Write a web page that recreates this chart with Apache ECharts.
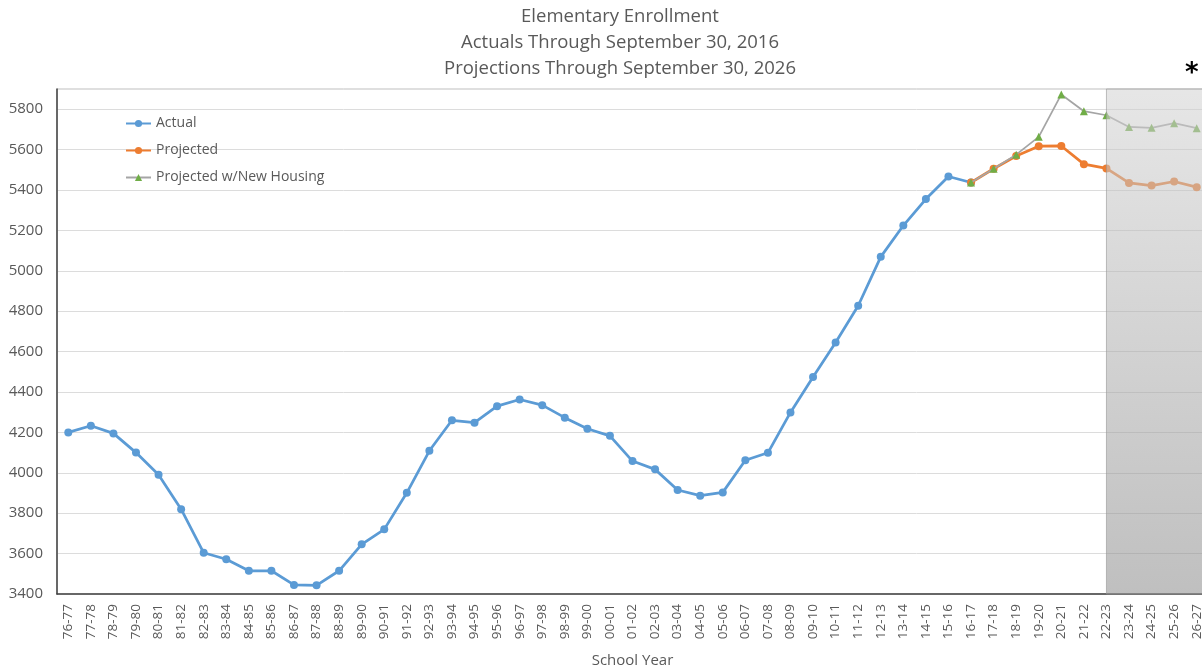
<!DOCTYPE html>
<html>
<head>
<meta charset="utf-8">
<script src="https://cdn.jsdelivr.net/npm/echarts@6/dist/echarts.min.js"></script>
<style>
html,body{margin:0;padding:0;background:#fff;}
#chart{width:1202px;height:668px;}
</style>
</head>
<body>
<div id="chart"></div>
<script>
const categories = ['76-77','77-78','78-79','79-80','80-81','81-82','82-83','83-84','84-85','85-86',
  '86-87','87-88','88-89','89-90','90-91','91-92','92-93','93-94','94-95','95-96',
  '96-97','97-98','98-99','99-00','00-01','01-02','02-03','03-04','04-05','05-06',
  '06-07','07-08','08-09','09-10','10-11','11-12','12-13','13-14','14-15','15-16',
  '16-17','17-18','18-19','19-20','20-21','21-22','22-23','23-24','24-25','25-26','26-27'];

const actual = [4200,4233,4195,4100,3990,3820,3604,3572,3515,3515,
  3445,3443,3515,3646,3720,3901,4109,4260,4248,4330,
  4363,4335,4273,4218,4183,4058,4017,3915,3887,3903,
  4062,4099,4299,4474,4645,4827,5069,5224,5355,5467,
  5437];

// from 16-17 onward
const projected = [5437,5505,5568,5617,5618,5528,5507,5435,5422,5442,5414];
const projectedHousing = [5437,5505,5575,5663,5873,5790,5770,5712,5708,5731,5706];

const projectionStart = '16-17';
const shadeStart = '22-23';

const titleLines = ['Elementary Enrollment','Actuals Through September 30, 2016','Projections Through September 30, 2026'];

function pad(arr, startCat) {
  const idx = categories.indexOf(startCat);
  const out = categories.map(() => null);
  arr.forEach((v, i) => { out[idx + i] = v; });
  return out;
}

const FONT = 'Open Sans';
const TXT = '#595959';

const chart = echarts.init(document.getElementById('chart'));
chart.setOption({
  animation: false,
  backgroundColor: '#ffffff',
  title: {
    text: titleLines.join('\n'),
    left: 620,
    top: 4,
    padding: 0,
    textAlign: 'center',
    textStyle: { fontFamily: FONT, fontSize: 18.5, fontWeight: 'normal', color: TXT, lineHeight: 26 }
  },
  legend: {
    data: ['Actual','Projected','Projected w/New Housing'],
    orient: 'vertical',
    left: 125,
    top: 114,
    padding: 0,
    itemWidth: 25,
    itemHeight: 9,
    itemGap: 8,
    textStyle: { fontFamily: FONT, fontSize: 14, color: TXT, lineHeight: 19 }
  },
  graphic: [{
    type: 'text',
    left: 1185,
    top: 61,
    style: { text: '*', font: 'bold 26px "DejaVu Sans"', fill: '#000' }
  }],
  grid: {
    left: 57,
    top: 89,
    bottom: 74,
    width: 1151,
    outerBoundsMode: 'none',
    containLabel: false,
    show: true,
    borderColor: '#bfbfbf',
    borderWidth: 1
  },
  xAxis: {
    type: 'category',
    data: categories,
    boundaryGap: true,
    name: 'School Year',
    nameLocation: 'middle',
    nameGap: 59,
    nameTextStyle: { fontFamily: FONT, fontSize: 15, color: TXT },
    axisLine: { lineStyle: { color: '#404040', width: 1.5 } },
    axisTick: { show: false },
    axisLabel: { rotate: 90, interval: 0, margin: 10, fontFamily: FONT, fontSize: 13.5, color: TXT },
    splitLine: { show: false }
  },
  yAxis: {
    type: 'value',
    min: 3400,
    max: 5900,
    interval: 100,
    axisLine: { show: true, lineStyle: { color: '#404040', width: 1.5 } },
    axisTick: { show: false },
    axisLabel: {
      margin: 14, fontFamily: FONT, fontSize: 15, color: TXT,
      formatter: v => ((v - 3400) % 200 === 0 && v < 5900) ? String(v) : ''
    },
    splitLine: { show: true, lineStyle: { color: ['#dcdcdc', 'rgba(0,0,0,0)'], width: 1 } }
  },
  series: [
    {
      name: 'Actual', type: 'line', data: actual,
      symbol: 'circle', symbolSize: 8,
      lineStyle: { color: '#5b9bd5', width: 2.75 },
      itemStyle: { color: '#5b9bd5' },
      z: 3
    },
    {
      name: 'Projected', type: 'line', data: pad(projected, projectionStart),
      symbol: 'circle', symbolSize: 8,
      lineStyle: { color: '#ed7d31', width: 2.75 },
      itemStyle: { color: '#ed7d31' },
      z: 4
    },
    {
      name: 'Projected w/New Housing', type: 'line', data: pad(projectedHousing, projectionStart),
      symbol: 'triangle', symbolSize: 8,
      lineStyle: { color: '#a5a5a5', width: 1.75 },
      itemStyle: { color: '#70ad47' },
      z: 5
    },
    {
      name: 'shade', type: 'line', data: [], z: 10,
      markArea: {
        silent: true,
        z: 10,
        itemStyle: {
          color: { type: 'linear', x: 0, y: 0, x2: 0, y2: 1, colorStops: [
            { offset: 0, color: 'rgba(210,210,210,0.55)' },
            { offset: 1, color: 'rgba(139,139,139,0.55)' }
          ]},
          borderColor: 'rgba(150,150,150,0.6)',
          borderWidth: 1
        },
        data: [[{ xAxis: shadeStart }, {}]]
      }
    }
  ]
});
</script>
</body>
</html>
